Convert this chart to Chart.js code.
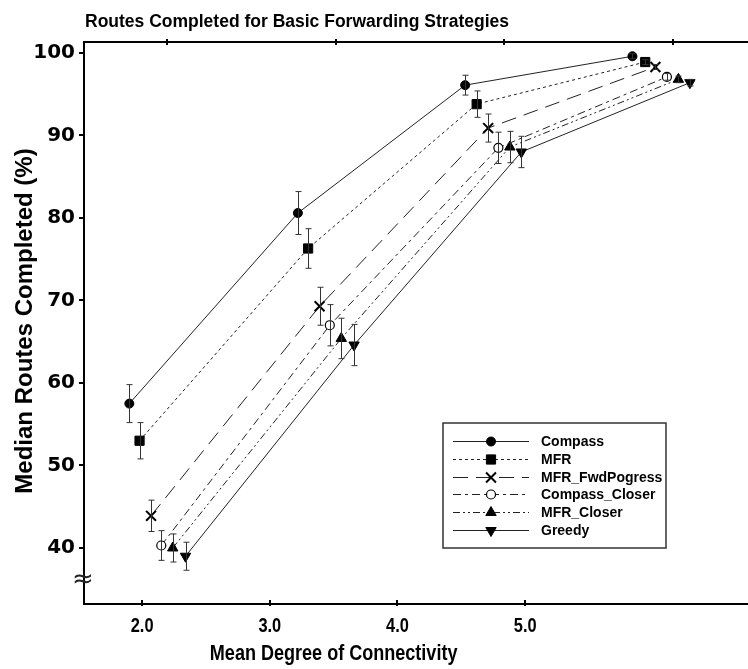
<!DOCTYPE html>
<html>
<head>
<meta charset="utf-8">
<script src="https://cdn.jsdelivr.net/npm/chart.js@4.4.0/dist/chart.umd.min.js"></script>
<style>
  html, body { margin: 0; padding: 0; background: #fff; overflow: hidden; }
  #wrap { position: relative; width: 748px; height: 669px; }
  #chart { display: block; }
</style>
</head>
<body>
<div id="wrap"><canvas id="chart"></canvas></div>
<script>
// Median routes completed (%) against mean degree of connectivity, one series per strategy.
// Each error array holds the half-height of the error bar at that point.
const compassX = [1.90, 3.22, 4.53, 5.84];
const compassY = [57.5, 80.6, 96.1, 99.6];
const compassErr = [2.3, 2.6, 1.2, 0.3];

const mfrX = [1.98, 3.30, 4.62, 5.94];
const mfrY = [53.0, 76.3, 93.8, 98.9];
const mfrErr = [2.2, 2.4, 1.6, 0.3];

const fwdX = [2.07, 3.39, 4.71, 6.02];
const fwdY = [43.9, 69.3, 90.9, 98.3];
const fwdErr = [1.9, 2.3, 1.7, 0.3];

const compassCloserX = [2.15, 3.47, 4.79, 6.11];
const compassCloserY = [40.3, 67.0, 88.5, 97.1];
const compassCloserErr = [1.8, 2.5, 1.9, 0.4];

const mfrCloserX = [2.24, 3.56, 4.88, 6.20];
const mfrCloserY = [40.0, 65.4, 88.6, 96.8];
const mfrCloserErr = [1.7, 2.45, 1.9, 0.4];

const greedyX = [2.34, 3.66, 4.97, 6.29];
const greedyY = [39.0, 64.6, 88.0, 96.4];
const greedyErr = [1.7, 2.5, 1.9, 0.4];

const xTickValues = [2, 3, 4, 5];
const yTickValues = [40, 50, 60, 70, 80, 90, 100];
const topTickValues = [1, 2, 3, 4];

const chartTitle = 'Routes Completed for Basic Forwarding Strategies';
const xTitle = 'Mean Degree of Connectivity';
const yTitle = 'Median Routes Completed (%)';

const BOLD_SANS = '"Liberation Sans", Arial, sans-serif';
const NARROW_SCALE = 0.82;   // horizontal squeeze that stands in for a narrow face

function points(xs, ys) {
  return xs.map((x, i) => ({ x: x, y: ys[i] }));
}

function series(label, xs, ys, errs, style) {
  return Object.assign({
    label: label,
    data: points(xs, ys),
    errors: errs,
    borderColor: '#222',
    borderWidth: 1,
    tension: 0,
    fill: false,
    pointBackgroundColor: '#000',
    pointBorderColor: '#000',
    pointBorderWidth: 1,
    pointRotation: 0,
    pointHoverRadius: 0
  }, style);
}

const datasets = [
  series('Compass', compassX, compassY, compassErr,
    { pointStyle: 'circle', pointRadius: 4.5, borderDash: [] }),
  series('MFR', mfrX, mfrY, mfrErr,
    { pointStyle: 'rect', pointRadius: 6.5, borderDash: [3, 3] }),
  series('MFR_FwdPogress', fwdX, fwdY, fwdErr,
    { pointStyle: 'crossRot', pointRadius: 7, pointBorderWidth: 2, borderDash: [15, 8] }),
  series('Compass_Closer', compassCloserX, compassCloserY, compassCloserErr,
    { pointStyle: 'circle', pointRadius: 4.5, pointBackgroundColor: '#fff', pointBorderWidth: 1.2, borderDash: [8, 4, 3, 4] }),
  series('MFR_Closer', mfrCloserX, mfrCloserY, mfrCloserErr,
    { pointStyle: 'triangle', pointRadius: 6, borderDash: [7, 3, 2, 3, 2, 3] }),
  series('Greedy', greedyX, greedyY, greedyErr,
    { pointStyle: 'triangle', pointRadius: 6, pointRotation: 180, borderDash: [] })
];

// Vertical error bars with small caps, drawn through each marker.
const errorBars = {
  id: 'errorBars',
  afterDatasetsDraw(chart) {
    const ctx = chart.ctx;
    const xs = chart.scales.x, ys = chart.scales.y;
    ctx.save();
    ctx.strokeStyle = '#333';
    ctx.lineWidth = 1;
    ctx.setLineDash([]);
    chart.data.datasets.forEach(ds => {
      ds.data.forEach((p, i) => {
        const e = ds.errors[i];
        const px = Math.round(xs.getPixelForValue(p.x)) + 0.5;
        const top = ys.getPixelForValue(p.y + e);
        const bot = ys.getPixelForValue(p.y - e);
        ctx.beginPath();
        ctx.moveTo(px, top); ctx.lineTo(px, bot);
        ctx.moveTo(px - 3, top); ctx.lineTo(px + 3, top);
        ctx.moveTo(px - 3, bot); ctx.lineTo(px + 3, bot);
        ctx.stroke();
      });
    });
    ctx.restore();
  }
};

function squeezedText(ctx, text, x, y) {
  ctx.save();
  ctx.translate(x, y);
  ctx.scale(NARROW_SCALE, 1);
  ctx.fillText(text, 0, 0);
  ctx.restore();
}

// Tick marks, tick labels of the connectivity axis, titles, axis break sign and the boxed legend.
const decorations = {
  id: 'decorations',
  afterDraw(chart) {
    const ctx = chart.ctx;
    const area = chart.chartArea;
    const xs = chart.scales.x, ys = chart.scales.y, xt = chart.scales.x2;
    ctx.save();
    ctx.strokeStyle = '#000';
    ctx.lineWidth = 2;
    ctx.setLineDash([]);
    ctx.beginPath();
    ys.ticks.forEach(t => {
      const py = Math.round(ys.getPixelForValue(t.value));
      ctx.moveTo(area.left - 5, py); ctx.lineTo(area.left, py);
    });
    xs.ticks.forEach(t => {
      const px = Math.round(xs.getPixelForValue(t.value));
      ctx.moveTo(px, area.bottom - 4); ctx.lineTo(px, area.bottom + 2);
    });
    xt.ticks.forEach(t => {
      const px = Math.round(xt.getPixelForValue(t.value));
      ctx.moveTo(px, area.top - 3); ctx.lineTo(px, area.top + 3);
    });
    ctx.stroke();

    // connectivity tick labels
    ctx.fillStyle = '#000';
    ctx.font = 'bold 20px ' + BOLD_SANS;
    ctx.textAlign = 'center';
    ctx.textBaseline = 'alphabetic';
    xs.ticks.forEach(t => {
      squeezedText(ctx, Number(t.value).toFixed(1), xs.getPixelForValue(t.value), area.bottom + 28);
    });

    // axis break sign on the value axis
    ctx.fillStyle = '#222';
    ctx.font = '26px "DejaVu Sans", sans-serif';
    ctx.textAlign = 'center';
    ctx.textBaseline = 'middle';
    ctx.fillText('\u2248', area.left - 1, area.bottom - 24);

    // chart title
    ctx.fillStyle = '#000';
    ctx.font = 'bold 17.5px ' + BOLD_SANS;
    ctx.textAlign = 'left';
    ctx.textBaseline = 'alphabetic';
    ctx.fillText(chartTitle, area.left + 1, 27);

    // x axis title, centred on the labelled tick range
    const mid = (xTickValues[0] + xTickValues[xTickValues.length - 1]) / 2;
    ctx.font = 'bold 22px ' + BOLD_SANS;
    ctx.textAlign = 'center';
    squeezedText(ctx, xTitle, xs.getPixelForValue(mid), 660);

    // y axis title
    ctx.save();
    ctx.translate(32, (area.top + area.bottom) / 2 - 2);
    ctx.rotate(-Math.PI / 2);
    ctx.font = 'bold 24px ' + BOLD_SANS;
    ctx.textAlign = 'center';
    ctx.fillText(yTitle, 0, 0);
    ctx.restore();

    // legend
    const box = { left: 443, top: 423, width: 223, height: 125 };
    const rowTop = 441, rowStep = 17.8, lineFrom = 453, lineTo = 529, textX = 541;
    ctx.fillStyle = '#fff';
    ctx.fillRect(box.left, box.top, box.width, box.height);
    ctx.strokeStyle = '#333';
    ctx.lineWidth = 1.5;
    ctx.strokeRect(box.left, box.top, box.width, box.height);
    chart.data.datasets.forEach((ds, i) => {
      const y = Math.round(rowTop + i * rowStep) + 0.5;
      ctx.setLineDash(ds.borderDash || []);
      ctx.strokeStyle = ds.borderColor;
      ctx.lineWidth = ds.borderWidth;
      ctx.beginPath();
      ctx.moveTo(lineFrom, y); ctx.lineTo(lineTo, y);
      ctx.stroke();
      ctx.setLineDash([]);
      ctx.fillStyle = ds.pointBackgroundColor;
      ctx.strokeStyle = ds.pointBorderColor;
      ctx.lineWidth = ds.pointBorderWidth;
      Chart.helpers.drawPoint(ctx, {
        pointStyle: ds.pointStyle,
        radius: ds.pointRadius,
        rotation: ds.pointRotation,
        borderWidth: ds.pointBorderWidth
      }, (lineFrom + lineTo) / 2, y);
      ctx.fillStyle = '#000';
      ctx.font = 'bold 14px ' + BOLD_SANS;
      ctx.textAlign = 'left';
      ctx.textBaseline = 'middle';
      ctx.fillText(ds.label, textX, y + 1);
    });
    ctx.restore();
  }
};

function noPadding(s) {
  s.paddingLeft = 0; s.paddingRight = 0; s.paddingTop = 0; s.paddingBottom = 0;
}

new Chart(document.getElementById('chart'), {
  type: 'line',
  data: { datasets: datasets },
  plugins: [errorBars, decorations],
  options: {
    responsive: true,
    maintainAspectRatio: false,
    devicePixelRatio: 1,
    animation: false,
    events: [],
    layout: { autoPadding: false, padding: { top: 42, left: 0, right: 0, bottom: 0 } },
    plugins: {
      legend: { display: false },
      title: { display: false },
      tooltip: { enabled: false }
    },
    scales: {
      x: {
        type: 'linear',
        position: 'bottom',
        min: 1.545,
        max: 6.745,
        afterBuildTicks: s => { s.ticks = xTickValues.map(v => ({ value: v })); },
        afterFit: s => { s.height = 65; noPadding(s); },
        ticks: { display: false },
        grid: { display: false, drawTicks: false },
        border: { display: true, color: '#000', width: 2 }
      },
      x2: {
        type: 'linear',
        position: 'top',
        min: 0.508,
        max: 4.445,
        afterBuildTicks: s => { s.ticks = topTickValues.map(v => ({ value: v })); },
        afterFit: s => { s.height = 0; noPadding(s); },
        ticks: { display: false },
        grid: { display: false, drawTicks: false },
        border: { display: true, color: '#000', width: 2 }
      },
      y: {
        type: 'linear',
        position: 'left',
        min: 33.21,
        max: 101.33,
        afterBuildTicks: s => { s.ticks = yTickValues.map(v => ({ value: v })); },
        afterFit: s => { s.width = 84; noPadding(s); },
        ticks: {
          color: '#000',
          font: { family: '"DejaVu Sans", sans-serif', size: 20, weight: 'bold' },
          padding: 9
        },
        grid: { display: false, drawTicks: false },
        border: { display: true, color: '#000', width: 2 }
      }
    }
  }
});
</script>
</body>
</html>
